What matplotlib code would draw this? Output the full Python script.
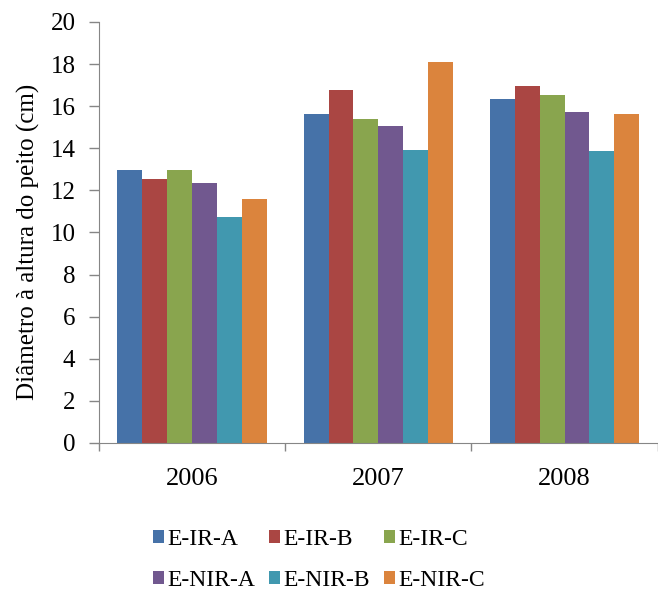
import numpy as np
import matplotlib.pyplot as plt
from matplotlib.patches import Patch

# Dados
anos = ["2006", "2007", "2008"]
series = ["E-IR-A", "E-IR-B", "E-IR-C", "E-NIR-A", "E-NIR-B", "E-NIR-C"]
e_ir_a = [12.95, 15.65, 16.35]
e_ir_b = [12.55, 16.75, 16.95]
e_ir_c = [12.95, 15.4, 16.55]
e_nir_a = [12.35, 15.05, 15.7]
e_nir_b = [10.75, 13.9, 13.85]
e_nir_c = [11.6, 18.1, 15.65]
valores = [e_ir_a, e_ir_b, e_ir_c, e_nir_a, e_nir_b, e_nir_c]
cores = ["#4672A8", "#AA4643", "#89A54E", "#71588F", "#4198AF", "#DB843D"]

plt.rcParams['font.family'] = ['Liberation Serif', 'DejaVu Serif']

fig = plt.figure(figsize=(6.58, 5.93), dpi=100)
ax = fig.add_axes([0.1505, 0.253, 0.849, 0.710])

x = np.arange(len(anos))
largura = 0.1337
for i, (nome, vals) in enumerate(zip(series, valores)):
    pos = x + (i - 2.5) * largura
    ax.bar(pos, vals, width=largura, color=cores[i], label=nome, linewidth=0)

ax.set_xlim(-0.5, 2.5)
ax.set_ylim(0, 20)
ax.set_yticks(np.arange(0, 21, 2))
ax.set_xticks(x)
ax.set_xticklabels(anos)
ax.set_xticks(np.arange(-0.5, 2.6, 1), minor=True)
ax.tick_params(axis='x', which='major', length=0, pad=18, labelsize=19)
ax.tick_params(axis='x', which='minor', length=6, color='#868686', width=1)
ax.tick_params(axis='y', length=7, color='#868686', width=1, labelsize=18, pad=10)

for s in ['top', 'right']:
    ax.spines[s].set_visible(False)
for s in ['left', 'bottom']:
    ax.spines[s].set_color('#868686')

ax.set_ylabel("Diâmetro à altura do peito (cm)", fontsize=18)
ax.yaxis.set_label_coords(-0.105, 0.477)

# legenda em ordem de linhas (3 por linha)
ordem = [0, 3, 1, 4, 2, 5]
handles = [Patch(facecolor=cores[i], edgecolor='none') for i in ordem]
labels = [series[i] for i in ordem]
fig.legend(handles, labels, loc='upper left', bbox_to_anchor=(0.2325, 0.108),
           ncol=3, frameon=False, fontsize=17, handlelength=0.45, handleheight=0.45,
           handletextpad=0.15, columnspacing=0.6, labelspacing=0.85,
           borderpad=0, borderaxespad=0)

fig.savefig("out.png", dpi=100)
